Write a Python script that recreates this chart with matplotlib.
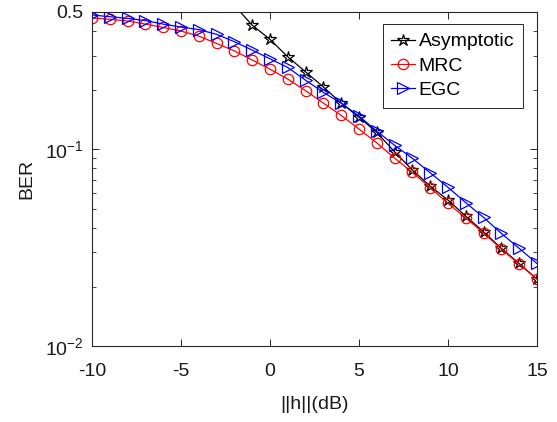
import numpy as np
import matplotlib
matplotlib.use('Agg')
import matplotlib.pyplot as plt
from matplotlib.ticker import LogLocator, NullFormatter

plt.rcParams['font.family'] = ['Liberation Sans', 'DejaVu Sans']
plt.rcParams['mathtext.default'] = 'regular'
plt.rcParams['axes.unicode_minus'] = False

# SNR axis (dB)
snr_db = list(range(-10, 16))

# BER curves
ber_mrc = [0.466, 0.459, 0.450, 0.434, 0.417, 0.400, 0.377, 0.346, 0.317, 0.285,
           0.256, 0.228, 0.199, 0.172, 0.149, 0.127, 0.108, 0.0904, 0.0765, 0.0639,
           0.0532, 0.0448, 0.0376, 0.0311, 0.0261, 0.0219]
ber_egc = [0.483, 0.473, 0.464, 0.452, 0.434, 0.419, 0.407, 0.385, 0.353, 0.320,
           0.289, 0.261, 0.225, 0.195, 0.172, 0.148, 0.124, 0.105, 0.0901, 0.0761,
           0.0642, 0.0536, 0.0451, 0.0374, 0.0314, 0.0263]
# asymptotic curve only starts near the top of the plot
snr_asym = list(range(-2, 16))
ber_asym = [0.54, 0.429, 0.363, 0.296, 0.248, 0.208, 0.172, 0.146, 0.122, 0.0973,
            0.0786, 0.0651, 0.0553, 0.0458, 0.0381, 0.0314, 0.0263, 0.0219]

yticks = [0.01, 0.1, 0.5]
yticklabels = ['$10^{-2}$', '$10^{-1}$', '0.5']
xticks = [-10, -5, 0, 5, 10, 15]

fig = plt.figure(figsize=(5.57, 4.22), dpi=100)
ax = fig.add_axes([0.165, 0.180, 0.799, 0.7916])

ax.plot(snr_asym, ber_asym, color='k', lw=0.9, marker='*', ms=9,
        mfc='none', mec='k', mew=0.9, label='Asymptotic')
ax.plot(snr_db, ber_mrc, color='r', lw=0.9, marker='o', ms=7.5,
        mfc='none', mec='r', mew=0.9, label='MRC')
ax.plot(snr_db, ber_egc, color='b', lw=0.9, marker='>', ms=8,
        mfc='none', mec='b', mew=0.9, label='EGC')

ax.set_yscale('log')
ax.set_xlim(-10, 15)
ax.set_ylim(0.01, 0.5)
ax.set_xticks(xticks)
ax.set_yticks(yticks)
ax.set_yticklabels(yticklabels)
ax.yaxis.set_minor_locator(LogLocator(base=10, subs=np.arange(2, 10) * 0.1, numticks=20))
ax.yaxis.set_minor_formatter(NullFormatter())

gray = '#262626'
for s in ax.spines.values():
    s.set_color(gray)
    s.set_linewidth(0.8)
ax.tick_params(which='both', direction='in', top=True, right=True, colors=gray,
               labelcolor='#1a1a1a', labelsize=14)
ax.tick_params(which='major', length=5, width=0.7)
ax.tick_params(which='minor', length=3, width=0.6)
ax.tick_params(axis='x', pad=12)
ax.tick_params(axis='y', pad=6)

ax.set_xlabel('||h||(dB)', fontsize=14, color='#1a1a1a', labelpad=12)
ax.set_ylabel('BER', fontsize=14, color='#1a1a1a', labelpad=7)

leg = ax.legend(loc='upper right', bbox_to_anchor=(0.9685, 0.964), borderaxespad=0,
                fontsize=14, fancybox=False, framealpha=1, edgecolor=gray,
                handlelength=1.2, handletextpad=0.2, labelspacing=0.35,
                borderpad=0.45)
leg.get_frame().set_linewidth(0.7)

fig.savefig('out.png', dpi=100)
